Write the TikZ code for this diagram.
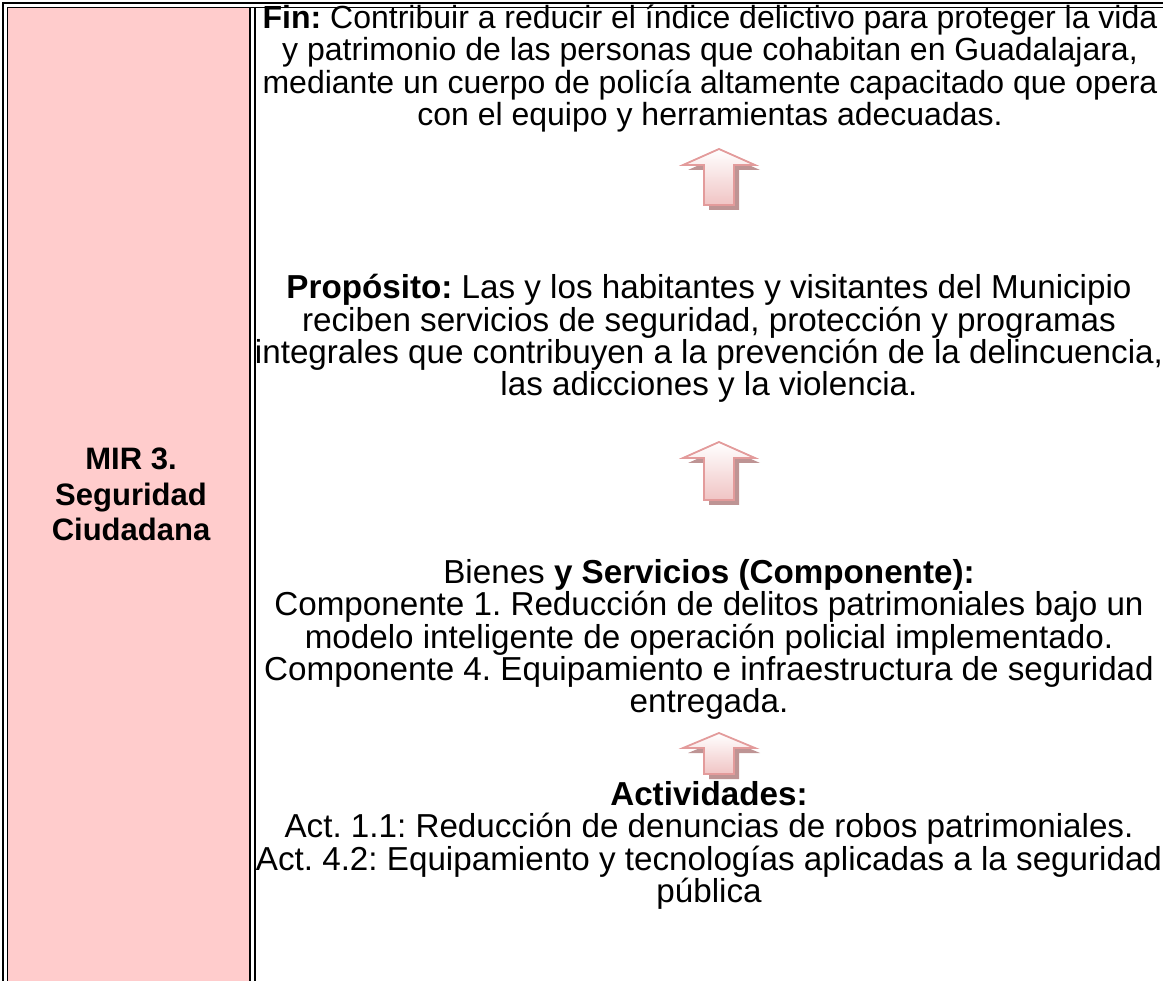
\documentclass[tikz,border=0pt]{standalone}
\usepackage{fontspec}
\setmainfont{Liberation Sans}
\frenchspacing
\definecolor{cellpink}{HTML}{FFCCCC}
\definecolor{arrline}{HTML}{E39B9B}
\definecolor{arrfill}{HTML}{F0C4C4}
\definecolor{arrshadow}{HTML}{BE9494}
\tikzset{
  righttext/.style={align=center, font=\fontsize{32}{32.3}\selectfont, inner sep=0pt},
  righttextb/.style={align=center, font=\fontsize{33.2}{32.3}\selectfont, inner sep=0pt},
  lefttext/.style={align=center, font=\fontsize{31}{35.5}\selectfont\bfseries, inner sep=0pt},
  arrshad/.style={fill=arrshadow},
  arrbody/.style={draw=arrline, line width=1.8pt, top color=white, bottom color=arrfill, line join=miter},
  thickrule/.style={line width=2.5pt},
  thinrule/.style={line width=1.3pt},
}
\newcommand{\mirUpArrow}[4]{% cx, tip, head base, bottom
  \fill[arrshad] (#1-36+5,#3+5) -- (#1-15+5,#3+5) -- (#1-15+5,#4+5) -- (#1+15+5,#4+5) -- (#1+15+5,#3+5) -- (#1+36+5,#3+5) -- (#1+5,#2+5) -- cycle;
  \path[arrbody] (#1,#2) -- (#1+36,#3) -- (#1+15,#3) -- (#1+15,#4) -- (#1-15,#4) -- (#1-15,#3) -- (#1-36,#3) -- cycle;
}
\begin{document}
\begin{tikzpicture}[x=1pt,y=-1pt]
\useasboundingbox (0,0) rectangle (1163,981);
% left pink cell
\fill[cellpink] (8,8) rectangle (250,981);
% outer double border
\draw[thickrule] (3,981) -- (3,3) -- (1163,3);
\draw[thinrule] (7.5,981) -- (7.5,7.5) -- (1163,7.5);
% cell separators
\draw[line width=2pt] (250,7.5) -- (250,981);
\draw[line width=2pt] (255,7.5) -- (255,981);
% left label
\node[lefttext] (mir) at (131,494.5) {MIR 3.\\Seguridad\\Ciudadana};
% right texts
\node[righttext] (fin) at (710,68.5) {\textbf{Fin:} Contribuir a reducir el índice delictivo para proteger la vida\\y patrimonio de las personas que cohabitan en Guadalajara,\\mediante un cuerpo de policía altamente capacitado que opera\\con el equipo y herramientas adecuadas.};
\node[righttextb] (prop) at (709,338.5) {\textbf{Propósito:} Las y los habitantes y visitantes del Municipio\\reciben servicios de seguridad, protección y programas\\integrales que contribuyen a la prevención de la delincuencia,\\las adicciones y la violencia.};
\node[righttextb] (comp) at (709,639.5) {Bienes \textbf{y Servicios (Componente):}\\Componente 1. Reducción de delitos patrimoniales bajo un\\modelo inteligente de operación policial implementado.\\Componente 4. Equipamiento e infraestructura de seguridad\\entregada.};
\node[righttextb] (act) at (709,845.5) {\textbf{Actividades:}\\Act. 1.1: Reducción de denuncias de robos patrimoniales.\\Act. 4.2: Equipamiento y tecnologías aplicadas a la seguridad\\pública};
% arrows
\mirUpArrow{719}{149}{165}{205}
\mirUpArrow{719}{442}{458}{500}
\mirUpArrow{719}{733}{748}{774}
\end{tikzpicture}
\end{document}
